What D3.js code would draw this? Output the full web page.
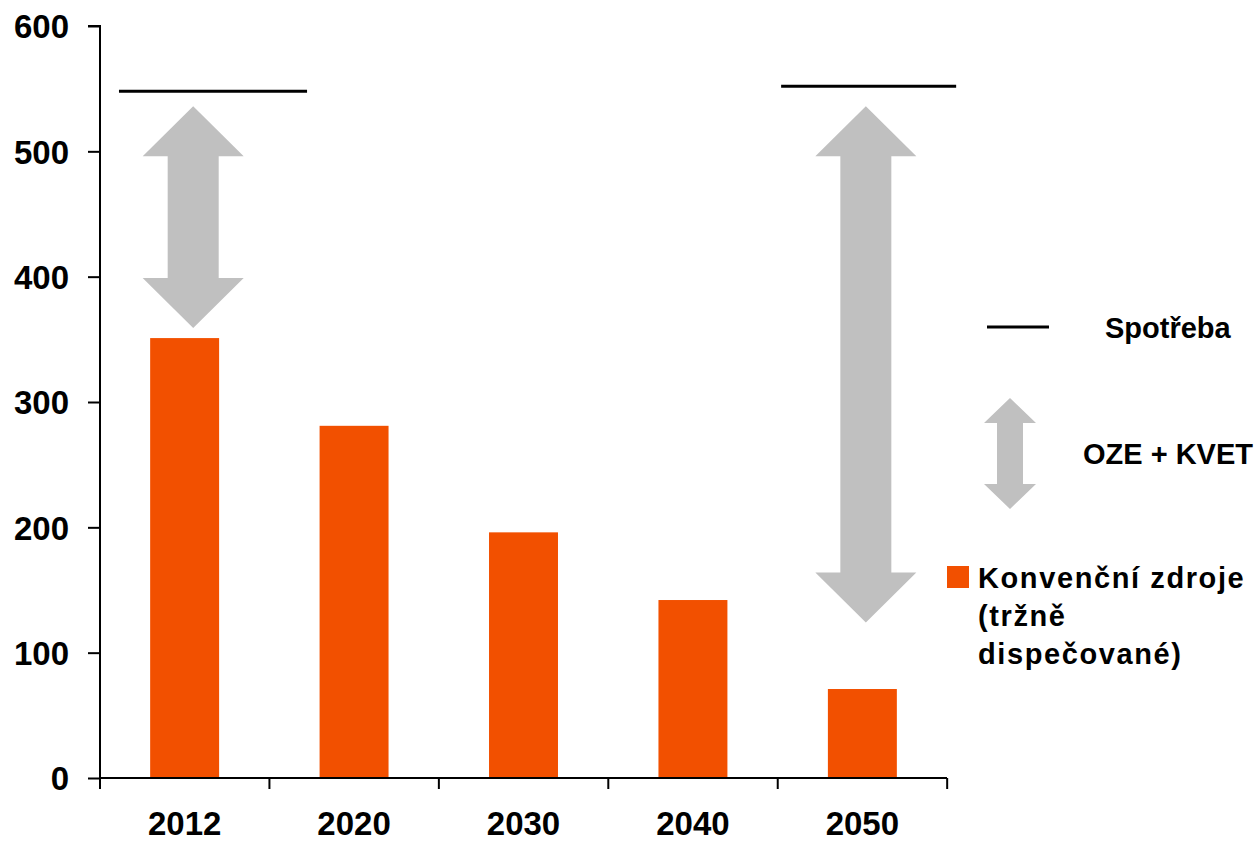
<!DOCTYPE html>
<html><head><meta charset="utf-8">
<script src="https://cdn.jsdelivr.net/npm/d3@7"></script>
<style>
html,body{margin:0;padding:0;background:#fff;}
svg text{font-family:"Liberation Sans",Arial,sans-serif;font-weight:bold;fill:#000;}
</style></head>
<body>
<svg id="chart" width="1257" height="843"></svg>
<script>
// ---- data ----
const categories = ["2012","2020","2030","2040","2050"];
const konvencni = [351, 281, 196, 142, 71];
const spotrebaYears = ["2012","2050"];
const spotrebaValues = [548, 552];
const ozeYears = ["2012","2050"];
const ozeTop = [536, 536];
const ozeBottom = [359, 124];
const yTicks = [0,100,200,300,400,500,600];
const legendLabels = ["Spotřeba","OZE + KVET",["Konvenční zdroje","(tržně","dispečované)"]];

// ---- layout ----
const ORANGE = "#F25000", GRAY = "#C0C0C0";
const svg = d3.select("#chart");
const x = d3.scaleBand().domain(categories).range([100, 947]).paddingInner(0.593).paddingOuter(0.296);
const y = d3.scaleLinear().domain([0, 600]).range([778, 26]);
const step = x.step();
const bandStart = c => 100 + categories.indexOf(c) * step;

// bars
svg.append("g").selectAll("rect").data(categories).join("rect")
  .attr("x", d => x(d)).attr("width", x.bandwidth())
  .attr("y", (d,i) => y(konvencni[i])).attr("height", (d,i) => y(0) - y(konvencni[i]))
  .attr("fill", ORANGE);

// double arrow path generator
function dblArrow(cx, yTop, yBot, shaftW, headW, headH) {
  const s = shaftW/2, h = headW/2;
  return `M${cx},${yTop} L${cx+h},${yTop+headH} L${cx+s},${yTop+headH} L${cx+s},${yBot-headH} L${cx+h},${yBot-headH} L${cx},${yBot} L${cx-h},${yBot-headH} L${cx-s},${yBot-headH} L${cx-s},${yTop+headH} L${cx-h},${yTop+headH} Z`;
}
const arrowCx = [0.55, 0.52];
ozeYears.forEach((c,i) => {
  svg.append("path")
    .attr("d", dblArrow(bandStart(c) + arrowCx[i]*step, y(ozeTop[i]), y(ozeBottom[i]), 51, 101, 50))
    .attr("fill", GRAY);
});

// spotreba lines
const lineSpan = [[0.112, 1.222], [0.02, 1.053]];
spotrebaYears.forEach((c,i) => {
  svg.append("line")
    .attr("x1", bandStart(c) + lineSpan[i][0]*step).attr("x2", bandStart(c) + lineSpan[i][1]*step)
    .attr("y1", y(spotrebaValues[i])).attr("y2", y(spotrebaValues[i]))
    .attr("stroke", "#000").attr("stroke-width", 3);
});

// y axis
const yAxis = svg.append("g").attr("transform", "translate(100,0)")
  .call(d3.axisLeft(y).tickValues(yTicks).tickSize(12).tickPadding(19));
yAxis.select(".domain").attr("stroke","#000").attr("stroke-width",2).attr("d", `M-12,${y(600)}H0V${y(0)}`);
yAxis.selectAll(".tick line").attr("stroke","#000").attr("stroke-width",2);
yAxis.selectAll("text").attr("font-size", 33).style("font-family",'"Liberation Sans",Arial,sans-serif').style("font-weight","bold").attr("dy","0.36em");

// x axis
const xAxis = svg.append("g").attr("transform", `translate(0,${y(0)})`)
  .call(d3.axisBottom(x).tickSize(0).tickPadding(34));
xAxis.select(".domain").attr("stroke","#000").attr("stroke-width",2).attr("d", `M100,0H947`);
xAxis.selectAll("text").attr("font-size", 33).style("font-family",'"Liberation Sans",Arial,sans-serif').style("font-weight","bold");
const boundaries = d3.range(categories.length + 1).map(i => 100 + i*step);
xAxis.selectAll(".sep").data(boundaries).join("line").attr("class","sep")
  .attr("x1", d=>d).attr("x2", d=>d).attr("y1", 0).attr("y2", 11)
  .attr("stroke","#000").attr("stroke-width",2);

// legend
const lg = svg.append("g");
lg.append("line").attr("x1",987).attr("x2",1049).attr("y1",327).attr("y2",327).attr("stroke","#000").attr("stroke-width",3);
lg.append("text").attr("x",1105).attr("y",338).attr("font-size",29).text(legendLabels[0]);
lg.append("path").attr("d", dblArrow(1010, 398, 509, 26, 52, 25)).attr("fill", GRAY);
lg.append("text").attr("x",1083).attr("y",464).attr("font-size",29).text(legendLabels[1]);
lg.append("rect").attr("x",947).attr("y",566).attr("width",22).attr("height",22).attr("fill",ORANGE);
lg.append("text").attr("x",978).attr("y",588).attr("font-size",29).attr("letter-spacing",1.6)
  .selectAll("tspan").data(legendLabels[2]).join("tspan")
  .attr("x",978).attr("dy",(d,i)=> i===0 ? 0 : 38).text(d=>d);
</script>
</body></html>
